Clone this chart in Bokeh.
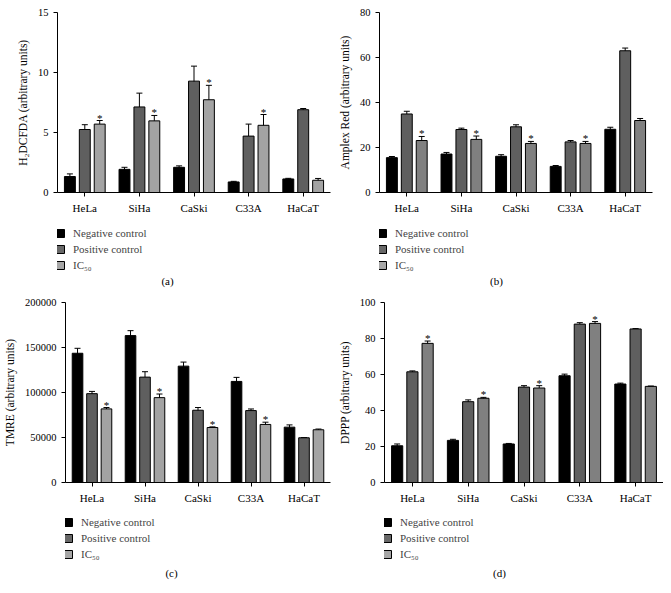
from bokeh.plotting import figure
from bokeh.models import (ColumnDataSource, FactorRange, Range1d, Whisker, TeeHead, Legend,
                          LegendItem, Label, FixedTicker, BasicTickFormatter, CDSView, BooleanFilter)
from bokeh.transform import dodge
from bokeh.layouts import column, row
from bokeh.embed import file_html
from bokeh.resources import INLINE
from bokeh.core.properties import value

cells = ["HeLa", "SiHa", "CaSki", "C33A", "HaCaT"]
series = ["Negative control", "Positive control", "IC₅₀"]
significant = [True, True, True, True, False]

# (a) H2DCFDA
a_neg = [1.33, 1.93, 2.10, 0.88, 1.13]
a_neg_err = [0.22, 0.17, 0.12, 0.05, 0.05]
a_pos = [5.25, 7.13, 9.28, 4.70, 6.90]
a_pos_err = [0.40, 1.15, 1.25, 1.00, 0.10]
a_ic = [5.70, 5.97, 7.73, 5.60, 1.02]
a_ic_err = [0.30, 0.45, 1.20, 0.90, 0.15]
a_ticks = [0, 5, 10, 15]

# (b) Amplex Red
b_neg = [15.5, 17.1, 16.1, 11.6, 28.1]
b_neg_err = [0.5, 0.7, 0.7, 0.4, 0.9]
b_pos = [34.9, 28.0, 29.2, 22.5, 63.0]
b_pos_err = [1.2, 0.6, 0.9, 0.6, 1.2]
b_ic = [23.1, 23.6, 21.8, 21.8, 32.0]
b_ic_err = [1.8, 1.5, 0.9, 0.9, 0.9]
b_ticks = [0, 20, 40, 60, 80]

# (c) TMRE
c_neg = [143600, 163200, 129300, 112300, 61500]
c_neg_err = [5500, 5500, 4500, 4500, 2500]
c_pos = [98700, 117100, 80300, 79900, 49700]
c_pos_err = [2500, 6000, 3000, 1800, 300]
c_ic = [81800, 94300, 61100, 64500, 58600]
c_ic_err = [1500, 4000, 700, 2500, 800]
c_ticks = [0, 50000, 100000, 150000, 200000]

# (d) DPPP
d_neg = [20.4, 23.4, 21.4, 59.3, 54.7]
d_neg_err = [1.0, 0.6, 0.3, 0.9, 0.5]
d_pos = [61.5, 44.9, 53.0, 88.0, 85.3]
d_pos_err = [0.5, 1.0, 0.8, 0.8, 0.2]
d_ic = [77.3, 46.8, 52.5, 88.4, 53.4]
d_ic_err = [1.3, 0.5, 1.3, 1.0, 0.2]
d_ticks = [0, 20, 40, 60, 80, 100]

FONT = "Liberation Serif"
OFFSETS = [-0.273, 0.0, 0.273]
BAR_W = 0.2
NEG_C, POS_C = "#000000", "#5f5f5f"
LEG_COLORS = ["#000000", "#686868", "#a6a6a6"]
FRAME_H = 181
AXIS_H = 23
LEG_H = 82


def chart(ylabel, ticks, data, ic_color, frame_w, left, right, top):
    x_range = FactorRange(*cells, range_padding=0)
    p = figure(x_range=x_range, y_range=Range1d(ticks[0], ticks[-1]),
               width=left + frame_w + right, height=top + FRAME_H + AXIS_H,
               min_border_left=left, min_border_right=right,
               min_border_top=top, min_border_bottom=AXIS_H,
               output_backend="svg", toolbar_location=None)
    p.outline_line_color = None
    p.xgrid.grid_line_color = None
    p.ygrid.grid_line_color = None

    colors = [NEG_C, POS_C, ic_color]
    for k, (vals, errs) in enumerate(data):
        src = ColumnDataSource(dict(
            cells=cells, top=vals,
            upper=[v + e for v, e in zip(vals, errs)],
            lower=[v - e for v, e in zip(vals, errs)]))
        xs = dodge("cells", OFFSETS[k], range=x_range)
        p.vbar(x=xs, top="top", width=BAR_W, source=src,
               fill_color=colors[k], line_color="#000000", line_width=1)
        w = Whisker(base=xs, upper="upper", lower="lower", source=src,
                    line_color="#000000", line_width=1,
                    upper_head=TeeHead(size=6, line_color="#000000", line_width=1),
                    lower_head=TeeHead(size=6, line_color="#000000", line_width=1))
        p.add_layout(w)
        if k == 2:
            view = CDSView(filter=BooleanFilter(significant))
            p.text(x=xs, y="upper", text=value("*"), source=src, view=view,
                   text_align="center", text_baseline="bottom", y_offset=3,
                   text_font=value(FONT), text_font_size="11px", text_color="#000000")

    for ax in (p.xaxis[0], p.yaxis[0]):
        ax.axis_line_color = "#000000"
        ax.major_tick_line_color = "#000000"
        ax.major_tick_in = 0
        ax.major_tick_out = 4
        ax.minor_tick_line_color = None
        ax.major_label_text_font = FONT
        ax.major_label_text_color = "#000000"
    p.xaxis.major_label_text_font_size = "11px"
    p.yaxis.major_label_text_font_size = "10.5px"
    p.xaxis.major_label_standoff = 5
    p.yaxis.ticker = FixedTicker(ticks=ticks)
    p.yaxis.formatter = BasicTickFormatter(use_scientific=False)
    p.yaxis.major_label_standoff = 5
    p.yaxis.axis_label = ylabel
    p.yaxis.axis_label_text_font = FONT
    p.yaxis.axis_label_text_font_size = "11.5px"
    p.yaxis.axis_label_text_font_style = "normal"
    p.yaxis.axis_label_text_color = "#000000"
    p.yaxis.axis_label_standoff = 6
    return p


def legend_box(caption, width, left, cap_center, leg_top, cap_y):
    # the column layout aligns this frame with the chart frame above (frame left = `left`)
    p = figure(x_range=Range1d(0, 1), y_range=Range1d(0, 1), width=width, height=LEG_H,
               min_border=0, min_border_left=0, min_border_right=0,
               min_border_top=0, min_border_bottom=0,
               x_axis_location=None, y_axis_location=None,
               output_backend="svg", toolbar_location=None)
    p.outline_line_color = None
    p.grid.visible = False
    items = []
    for k, name in enumerate(series):
        # legend proxy, kept outside the visible range
        r = p.vbar(x=[-5], top=[-5], bottom=[-6], width=0.1, fill_color=LEG_COLORS[k],
                   line_color="#000000", line_width=1)
        items.append(LegendItem(label=name, renderers=[r]))
    legend = Legend(items=items, location=(-2, LEG_H - leg_top - 43), orientation="vertical",
                    glyph_width=10, glyph_height=10, label_height=10,
                    label_text_font=FONT, label_text_font_size="11px",
                    label_standoff=8, spacing=4, padding=0, margin=0,
                    border_line_color=None, background_fill_alpha=0)
    p.add_layout(legend)
    p.add_layout(Label(x=cap_center - left, y=LEG_H - cap_y, x_units="screen", y_units="screen",
                       text=caption, text_align="center", text_baseline="middle",
                       text_font=FONT, text_font_size="11px", text_color="#000000"))
    return p


def panel(caption, ylabel, ticks, data, ic_color, frame_w, left, right, top,
          cap_center, leg_top, cap_y):
    c = chart(ylabel, ticks, data, ic_color, frame_w, left, right, top)
    lg = legend_box(caption, left + frame_w + right, left, cap_center, leg_top, cap_y)
    return column(c, lg, spacing=0)


pa = panel("(a)", "H₂DCFDA (arbitrary units)", a_ticks,
           [(a_neg, a_neg_err), (a_pos, a_pos_err), (a_ic, a_ic_err)],
           "#a3a3a3", 273, 57, 5, 12, 167, 12, 64)
pb = panel("(b)", "Amplex Red (arbitrary units)", b_ticks,
           [(b_neg, b_neg_err), (b_pos, b_pos_err), (b_ic, b_ic_err)],
           "#808080", 274, 43, 11, 12, 160, 12, 64)
pc = panel("(c)", "TMRE (arbitrary units)", c_ticks,
           [(c_neg, c_neg_err), (c_pos, c_pos_err), (c_ic, c_ic_err)],
           "#a3a3a3", 269, 61, 5, 4, 167, 11, 66)
pd = panel("(d)", "DPPP (arbitrary units)", d_ticks,
           [(d_neg, d_neg_err), (d_pos, d_pos_err), (d_ic, d_ic_err)],
           "#808080", 281, 47, 0, 4, 162, 11, 66)

layout = column(row(pa, pb, spacing=0), row(pc, pd, spacing=0), spacing=0)
open("out.html", "w").write(file_html(layout, INLINE))
